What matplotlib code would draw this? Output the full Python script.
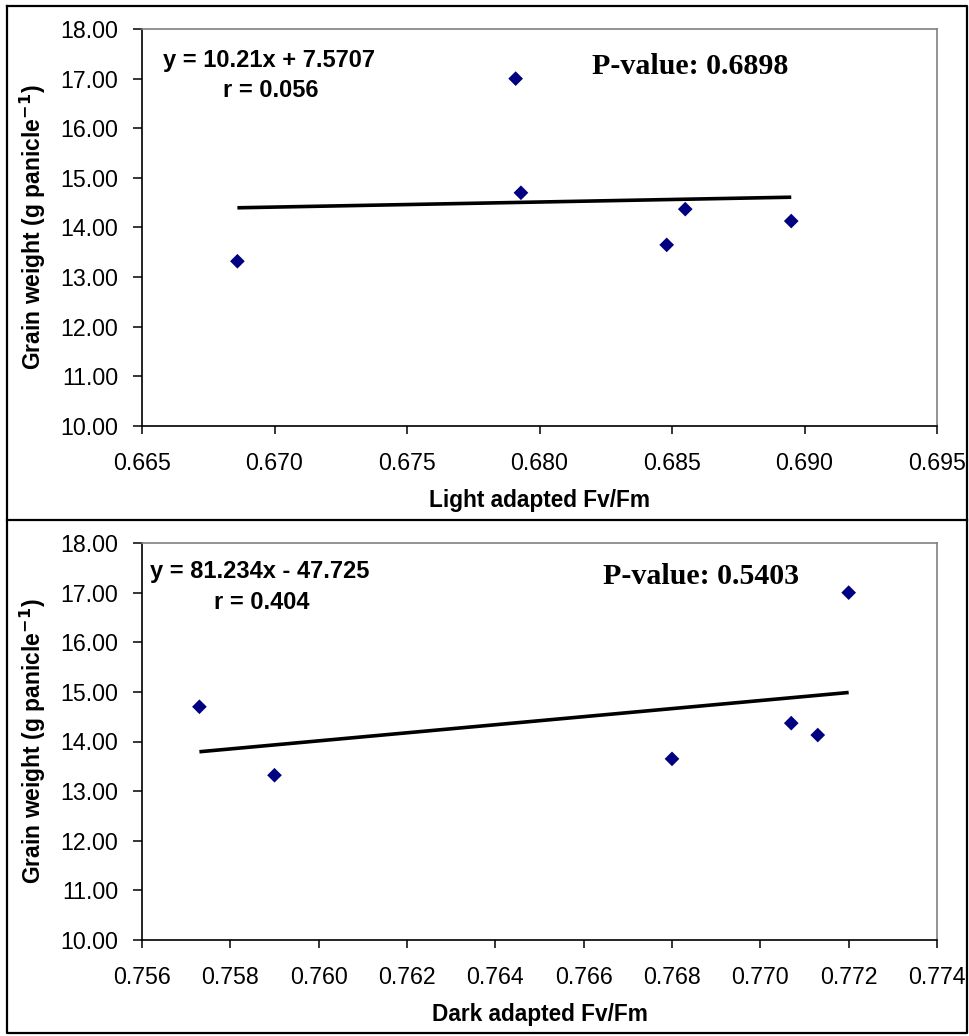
import matplotlib
matplotlib.use("Agg")
import matplotlib.pyplot as plt
from matplotlib.lines import Line2D
from matplotlib.ticker import FormatStrFormatter, MultipleLocator
import numpy as np

plt.rcParams['font.family'] = ['Liberation Sans', 'DejaVu Sans']

# ---- data ----
grain_weight = [13.32, 17.00, 14.70, 13.65, 14.37, 14.13]
light_fvfm = [0.6686, 0.6791, 0.6793, 0.6848, 0.6855, 0.6895]
dark_fvfm = [0.7590, 0.7720, 0.7573, 0.7680, 0.7707, 0.7713]

light_slope, light_intercept = 10.21, 7.5707
dark_slope, dark_intercept = 81.234, -47.725

light_eq = "y = 10.21x + 7.5707"
light_r = "r = 0.056"
light_p = "P-value: 0.6898"
dark_eq = "y = 81.234x - 47.725"
dark_r = "r = 0.404"
dark_p = "P-value: 0.5403"

light_xlabel = "Light adapted Fv/Fm"
dark_xlabel = "Dark adapted Fv/Fm"
ylabel = r"Grain weight (g panicle$^{\mathbf{-1}}$)"

W, H = 970, 1036
fig = plt.figure(figsize=(W / 100, H / 100), dpi=100)
fig.patch.set_facecolor("white")


def px_box(left, top, right, bottom):
    return [left / W, 1 - bottom / H, (right - left) / W, (bottom - top) / H]


def setup(ax, x, slope, intercept, xlim, xstep, xlabel, eq, r, p, pos):
    ax.scatter(x, grain_weight, marker='D', s=56, color='#000080',
               edgecolors='none', zorder=3)
    xs = np.array([min(x), max(x)])
    ax.plot(xs, slope * xs + intercept, color='black', lw=2.6, zorder=2,
            solid_capstyle='butt')
    ax.set_xlim(*xlim)
    ax.set_ylim(10, 18)
    ax.xaxis.set_major_locator(MultipleLocator(xstep))
    ax.yaxis.set_major_locator(MultipleLocator(1))
    ax.xaxis.set_major_formatter(FormatStrFormatter('%.3f'))
    ax.yaxis.set_major_formatter(FormatStrFormatter('%.2f'))
    for s in ['left', 'bottom']:
        ax.spines[s].set_color('black')
        ax.spines[s].set_linewidth(1.2)
    for s in ['top', 'right']:
        ax.spines[s].set_color('#808080')
        ax.spines[s].set_linewidth(1.2)
    ax.tick_params(axis='y', direction='out', length=6.5, width=1.1,
                   labelsize=16.7, pad=10.5)
    ax.tick_params(axis='x', direction='out', length=6, width=1.1,
                   labelsize=16.7, pad=13)
    ax.set_xlabel(xlabel, fontsize=16.3, fontweight='bold')
    ax.xaxis.set_label_coords(0.5, -0.158)
    ax.set_ylabel(ylabel, fontsize=16.5, fontweight='bold')
    ax.yaxis.set_label_coords(-0.118, 0.5)
    (ex, ey), (rx, ry), (ppx, ppy) = pos
    ax.text(ex, ey, eq, transform=ax.transAxes, fontsize=17,
            fontweight='bold', va='baseline', ha='left')
    ax.text(rx, ry, r, transform=ax.transAxes, fontsize=17,
            fontweight='bold', va='baseline', ha='left')
    ax.text(ppx, ppy, p, transform=ax.transAxes, fontsize=21.5,
            fontweight='bold', va='baseline', ha='left',
            family=['Liberation Serif', 'DejaVu Serif'])


ax1 = fig.add_axes(px_box(142, 29, 937, 426))
setup(ax1, light_fvfm, light_slope, light_intercept, (0.665, 0.695), 0.005,
      light_xlabel, light_eq, light_r, light_p,
      [(0.0264, 0.904), (0.102, 0.829), (0.5665, 0.886)])

ax2 = fig.add_axes(px_box(142, 543, 937, 940))
setup(ax2, dark_fvfm, dark_slope, dark_intercept, (0.756, 0.774), 0.002,
      dark_xlabel, dark_eq, dark_r, dark_p,
      [(0.010, 0.912), (0.0906, 0.834), (0.5800, 0.897)])

# outer frame and divider (figure pixel coordinates)
def fx(v):
    return v / W


def fy(v):
    return 1 - v / H


frame_kw = dict(color='black', lw=1.6, transform=fig.transFigure)
fig.add_artist(Line2D([fx(7), fx(967), fx(967), fx(7), fx(7)],
                      [fy(6), fy(6), fy(1033), fy(1033), fy(6)], **frame_kw))
fig.add_artist(Line2D([fx(7), fx(967)], [fy(520), fy(520)], **frame_kw))

fig.savefig("out.png", dpi=100, facecolor='white')
